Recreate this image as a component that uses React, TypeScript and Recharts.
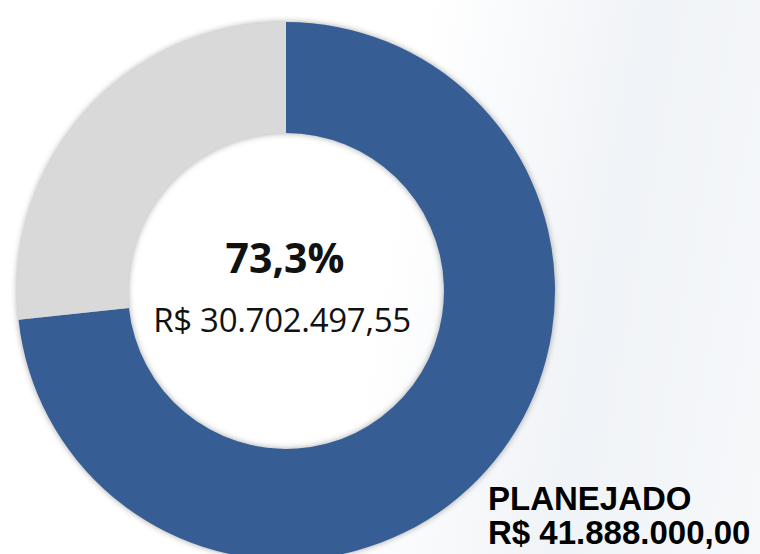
import { PieChart, Pie, Cell } from 'recharts';

const categories = ['Executado', 'A executar'];
const executado = 30702497.55;
const planejado = 41888000.0;
const percentLabel = '73,3%';
const executadoLabel = 'R$ 30.702.497,55';
const planejadoTitle = 'PLANEJADO';
const planejadoLabel = 'R$ 41.888.000,00';

const colors = ['#365e95', '#d9d9d9'];

const App = () => {
    const data = [
        { name: categories[0], value: executado },
        { name: categories[1], value: planejado - executado },
    ];

    return (
        <div
            style={{
                position: 'absolute',
                left: 0,
                top: 0,
                width: 760,
                height: 554,
                overflow: 'hidden',
                background:
                    'linear-gradient(100deg, #ffffff 0%, #ffffff 50%, #f0f3f7 76%, #f6f8fa 100%)',
            }}
        >
            <PieChart
                width={760}
                height={554}
                style={{ filter: 'drop-shadow(0 0 3px rgba(0,0,0,0.35))' }}
            >
                <Pie
                    data={data}
                    dataKey="value"
                    cx={281}
                    cy={286}
                    innerRadius={158}
                    outerRadius={269}
                    startAngle={90}
                    endAngle={-270}
                    stroke="none"
                    isAnimationActive={false}
                >
                    {data.map((entry, index) => (
                        <Cell key={`cell-${index}`} fill={colors[index]} />
                    ))}
                </Pie>
            </PieChart>

            {/* center labels */}
            <div
                style={{
                    position: 'absolute',
                    left: 180,
                    width: 210,
                    top: 233,
                    textAlign: 'center',
                    fontFamily: '"Open Sans", sans-serif',
                    fontWeight: 700,
                    fontSize: 41,
                    lineHeight: '48px',
                    color: '#111',
                }}
            >
                {percentLabel}
            </div>
            <div
                style={{
                    position: 'absolute',
                    left: 132,
                    width: 300,
                    top: 302,
                    textAlign: 'center',
                    fontFamily: '"Open Sans", sans-serif',
                    fontSize: 33,
                    lineHeight: '36px',
                    letterSpacing: -0.3,
                    color: '#111',
                    whiteSpace: 'nowrap',
                }}
            >
                {executadoLabel}
            </div>

            {/* planned total */}
            <div
                style={{
                    position: 'absolute',
                    left: 488,
                    top: 482,
                    fontFamily: '"Liberation Sans", Arial, sans-serif',
                    fontWeight: 700,
                    fontSize: 33,
                    lineHeight: '34px',
                    color: '#000',
                    whiteSpace: 'nowrap',
                }}
            >
                <div>{planejadoTitle}</div>
                <div>{planejadoLabel}</div>
            </div>
        </div>
    );
};

export default App;
